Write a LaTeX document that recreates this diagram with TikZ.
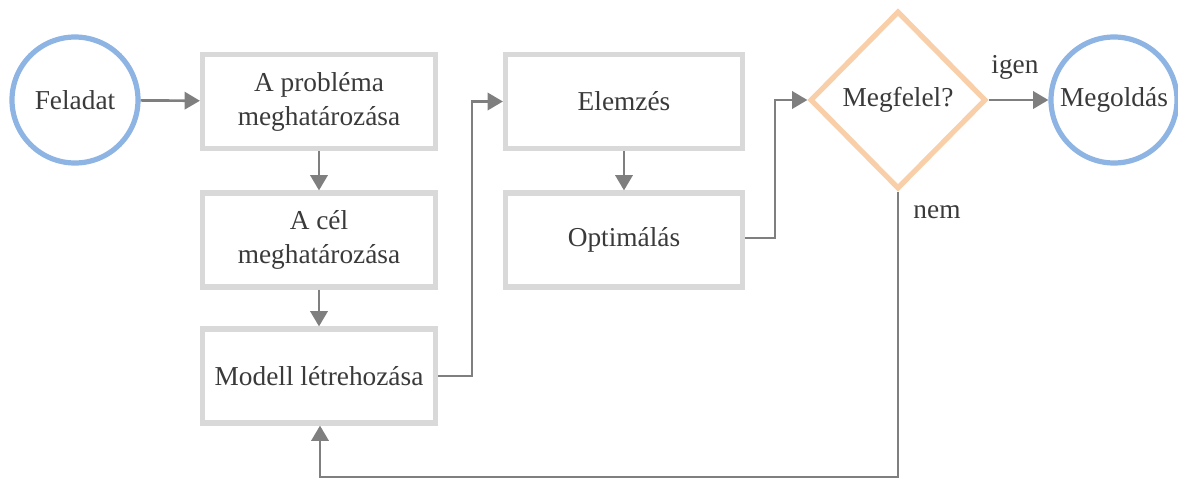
\documentclass[tikz,border=0pt]{standalone}
\usepackage{fontspec}
\setmainfont{Liberation Serif}
\usetikzlibrary{shapes.geometric,arrows.meta}
\definecolor{ringblue}{HTML}{8EB4E3}
\definecolor{boxgray}{HTML}{D9D9D9}
\definecolor{peach}{HTML}{F8CFA8}
\definecolor{linkgray}{HTML}{7F7F7F}
\definecolor{ink}{HTML}{3A3A3A}
\tikzset{
  every node/.style={text=ink, font=\fontsize{20.5}{25.5}\selectfont},
  endpoint/.style={circle, draw=ringblue, line width=3.9pt, fill=white,
    minimum size={0.75pt*126}, inner sep=0pt},
  stepbox/.style={rectangle, draw=boxgray, line width=3.9pt, fill=white,
    minimum width={0.75pt*233}, minimum height={0.75pt*94}, inner sep=0pt,
    align=center},
  widebox/.style={stepbox, minimum width={0.75pt*237}},
  decision/.style={diamond, draw=peach, line width=3.9pt, fill=white,
    minimum width={0.75pt*176}, minimum height={0.75pt*178}, inner sep=0pt,
    aspect=1},
  link/.style={draw=linkgray, line width=2pt,
    -{Triangle[length=11.5pt,width=13pt]}},
  tag/.style={inner sep=0pt}
}
\begin{document}
\begin{tikzpicture}[x=0.75pt, y=-0.75pt]
\useasboundingbox (0,0) rectangle (1178,479);

% start and end states
\node[endpoint] (start) at (75,100) {Feladat};
\node[endpoint] (goal) at (1114,100) {Megoldás};

% left column of steps
\node[stepbox] (problem) at (319,101.5) {A probléma\\meghatározása};
\node[stepbox] (target) at (319,240) {A cél\\meghatározása};
\node[stepbox] (model) at (319,376) {Modell létrehozása};

% middle column
\node[widebox] (analysis) at (624,101.5) {Elemzés};
\node[widebox] (optim) at (624,240) {Optimálás};

% decision
\node[decision] (check) at (898,100) {Megfelel?};

% corner points of the routed links
\coordinate (m1) at (472,376);
\coordinate (m2) at (472,101.5);
\coordinate (o1) at (775,238);
\coordinate (o2) at (775,100);
\coordinate (f1) at (898,477);
\coordinate (f2) at (320,477);

% links
\draw[link] (start) -- (problem);
\draw[link] (problem) -- (target);
\draw[link] (target) -- (model);
\draw[link] (model.east |- m1) -- (m1) -- (m2) -- (analysis.west |- m2);
\draw[link] (analysis) -- (optim);
\draw[link] (optim.east |- o1) -- (o1) -- (o2) -- (check.west);
\draw[link] (check.east) -- (goal);
\draw[link] (check.south) -- (f1) -- (f2) -- (model.south -| f2);

% branch labels
\node[tag] at (1015,67) {igen};
\node[tag] at (937,212) {nem};
\end{tikzpicture}
\end{document}
